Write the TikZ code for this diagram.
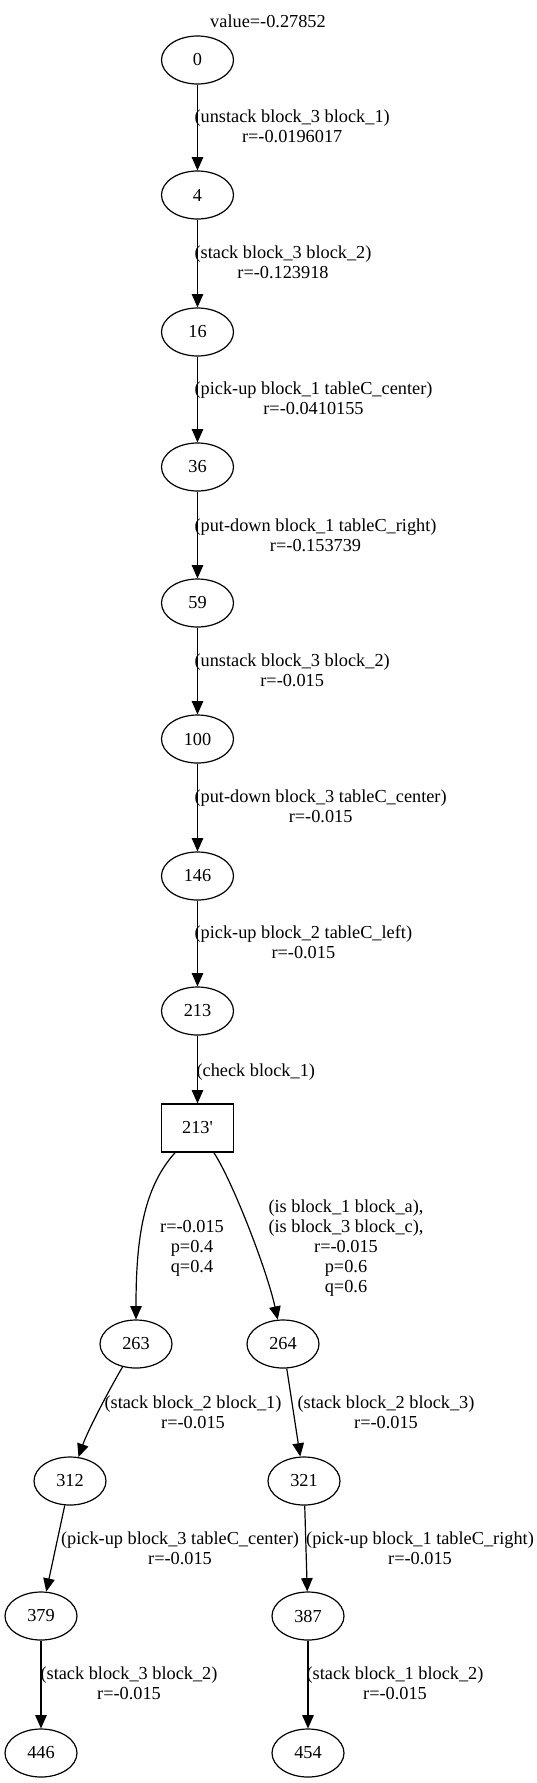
\documentclass[tikz,border=0pt]{standalone}
\usepackage{fontspec}
\setmainfont{Liberation Serif}
\usetikzlibrary{arrows.meta,shapes.geometric}
\begin{document}
\begin{tikzpicture}[x=1pt,y=-1pt,line width=1.2pt,
  every node/.style={font=\fontsize{18.3}{20}\selectfont},
  st/.style={draw,ellipse,minimum width=72pt,minimum height=48pt,inner sep=0pt},
  ch/.style={draw,rectangle,minimum width=72pt,minimum height=48pt,inner sep=0pt},
  lbl/.style={align=center,inner sep=0pt,execute at begin node=\strut,execute at end node=\strut},
  arr/.style={-{Triangle[length=13.3pt,width=11.5pt]}}]
\useasboundingbox (0,0) rectangle (536,1783);
\node[lbl] (title) at (268,23) {value=-0.27852};
% nodes
\node[st] (n0)   at (197.5,60)   {0};
\node[st] (n4)   at (197.5,195)  {4};
\node[st] (n16)  at (197.5,332)  {16};
\node[st] (n36)  at (197.5,467)  {36};
\node[st] (n59)  at (197.5,603)  {59};
\node[st] (n100) at (197.5,739)  {100};
\node[st] (n146) at (197.5,876)  {146};
\node[st] (n213) at (197.5,1011) {213};
\node[ch] (n213p) at (197.5,1128) {213\textquotesingle};
\node[st] (n263) at (136,1344) {263};
\node[st] (n264) at (283,1344) {264};
\node[st] (n312) at (70,1481)  {312};
\node[st] (n321) at (304,1481) {321};
\node[st] (n379) at (41,1616)  {379};
\node[st] (n387) at (308,1616) {387};
\node[st] (n446) at (41,1753)  {446};
\node[st] (n454) at (308,1753) {454};
% edges
\draw[arr] (n0) -- (n4);
\draw[arr] (n4) -- (n16);
\draw[arr] (n16) -- (n36);
\draw[arr] (n36) -- (n59);
\draw[arr] (n59) -- (n100);
\draw[arr] (n100) -- (n146);
\draw[arr] (n146) -- (n213);
\draw[arr] (n213) -- (n213p);
\draw[arr] (n213p) .. controls (143,1188) and (136,1240) .. (n263);
\draw[arr] (n213p) .. controls (232,1180) and (267,1270) .. (n264);
\draw[arr] (n263) .. controls (109,1390) and (88,1430) .. (n312);
\draw[arr] (n264) -- (n321);
\draw[arr] (n312) -- (n379);
\draw[arr] (n321) -- (n387);
\draw[arr] (n379) -- (n446);
\draw[arr] (n387) -- (n454);
% edge labels
\node[lbl,anchor=west] (l1)  at (194,129.5)  {(unstack block\_3 block\_1)\\r=-0.0196017};
\node[lbl,anchor=west] (l2)  at (194,265.5)  {(stack block\_3 block\_2)\\r=-0.123918};
\node[lbl,anchor=west] (l3)  at (194,401.5)  {(pick-up block\_1 tableC\_center)\\r=-0.0410155};
\node[lbl,anchor=west] (l4)  at (194,538)    {(put-down block\_1 tableC\_right)\\r=-0.153739};
\node[lbl,anchor=west] (l5)  at (194,673.5)  {(unstack block\_3 block\_2)\\r=-0.015};
\node[lbl,anchor=west] (l6)  at (194,809.5)  {(put-down block\_3 tableC\_center)\\r=-0.015};
\node[lbl,anchor=west] (l7)  at (194,945.5)  {(pick-up block\_2 tableC\_left)\\r=-0.015};
\node[lbl,anchor=west] (l8)  at (196,1072)   {(check block\_1)};
\node[lbl] (l9)  at (192,1249)   {r=-0.015\\p=0.4\\q=0.4};
\node[lbl] (l10) at (346,1249)   {(is block\_1 block\_a),\\(is block\_3 block\_c),\\r=-0.015\\p=0.6\\q=0.6};
\node[lbl] (l11) at (193,1415)   {(stack block\_2 block\_1)\\r=-0.015};
\node[lbl] (l12) at (386,1415)   {(stack block\_2 block\_3)\\r=-0.015};
\node[lbl] (l13) at (180,1551)   {(pick-up block\_3 tableC\_center)\\r=-0.015};
\node[lbl] (l14) at (420,1551)   {(pick-up block\_1 tableC\_right)\\r=-0.015};
\node[lbl] (l15) at (129,1686.5) {(stack block\_3 block\_2)\\r=-0.015};
\node[lbl] (l16) at (395,1686.5) {(stack block\_1 block\_2)\\r=-0.015};
\end{tikzpicture}
\end{document}
